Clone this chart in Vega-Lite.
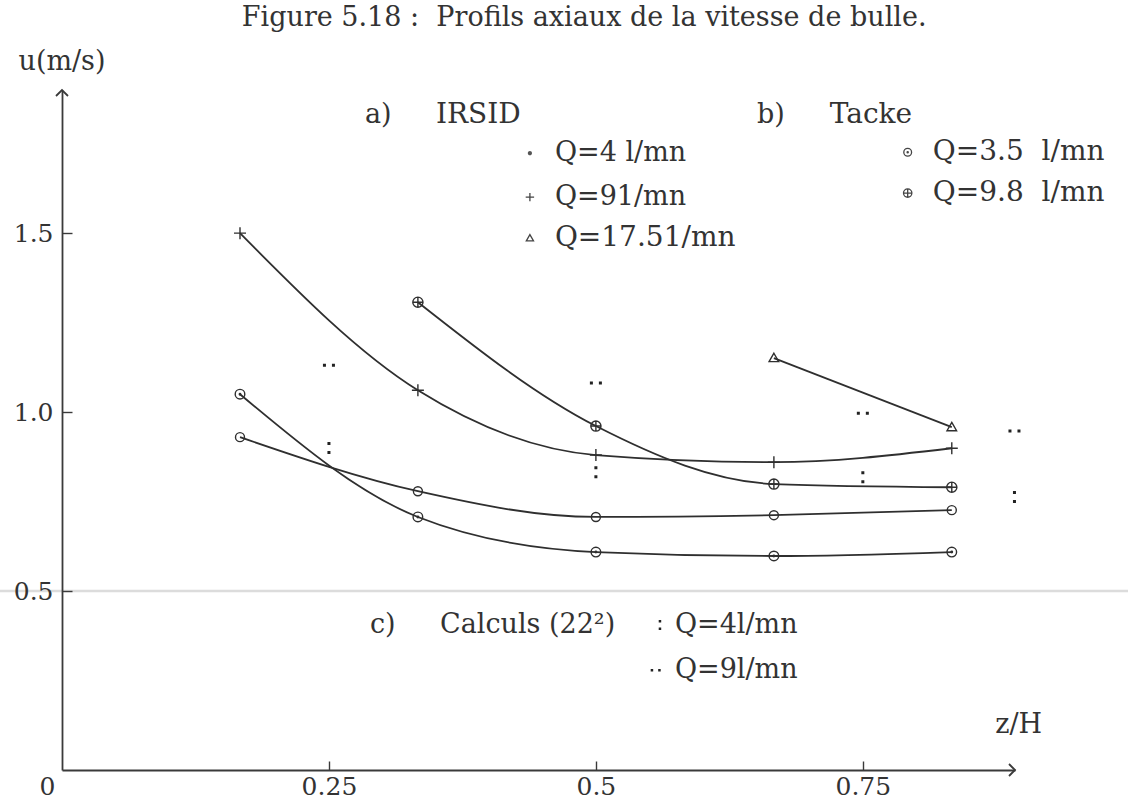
{
  "$schema": "https://vega.github.io/schema/vega-lite/v6.json",
  "width": 953,
  "height": 680,
  "autosize": {"type": "none"},
  "padding": {"left": 62, "top": 90, "right": 113, "bottom": 37},
  "background": "white",
  "config": {
    "view": {"stroke": null},
    "font": "DejaVu Serif",
    "text": {"font": "DejaVu Serif", "fontSize": 27, "color": "#333"}
  },
  "datasets": {
    "mesures": [
      {"serie": "IRSID Q=4", "z": 0.1667, "u": 1.05},
      {"serie": "IRSID Q=4", "z": 0.3333, "u": 0.707},
      {"serie": "IRSID Q=4", "z": 0.5, "u": 0.609},
      {"serie": "IRSID Q=4", "z": 0.6667, "u": 0.598},
      {"serie": "IRSID Q=4", "z": 0.8333, "u": 0.609},
      {"serie": "IRSID Q=9", "z": 0.1667, "u": 1.5},
      {"serie": "IRSID Q=9", "z": 0.3333, "u": 1.061},
      {"serie": "IRSID Q=9", "z": 0.5, "u": 0.88},
      {"serie": "IRSID Q=9", "z": 0.6667, "u": 0.86},
      {"serie": "IRSID Q=9", "z": 0.8333, "u": 0.899},
      {"serie": "IRSID Q=17.5", "z": 0.6667, "u": 1.151},
      {"serie": "IRSID Q=17.5", "z": 0.8333, "u": 0.958},
      {"serie": "Tacke Q=3.5", "z": 0.1667, "u": 0.93},
      {"serie": "Tacke Q=3.5", "z": 0.3333, "u": 0.779},
      {"serie": "Tacke Q=3.5", "z": 0.5, "u": 0.707},
      {"serie": "Tacke Q=3.5", "z": 0.6667, "u": 0.712},
      {"serie": "Tacke Q=3.5", "z": 0.8333, "u": 0.726},
      {"serie": "Tacke Q=9.8", "z": 0.3333, "u": 1.307},
      {"serie": "Tacke Q=9.8", "z": 0.5, "u": 0.961},
      {"serie": "Tacke Q=9.8", "z": 0.6667, "u": 0.799},
      {"serie": "Tacke Q=9.8", "z": 0.8333, "u": 0.79}
    ],
    "calculs": [
      {"serie": "Calculs Q=4", "z": 0.25, "u": 0.9},
      {"serie": "Calculs Q=4", "z": 0.5, "u": 0.832},
      {"serie": "Calculs Q=4", "z": 0.75, "u": 0.818},
      {"serie": "Calculs Q=4", "z": 0.892, "u": 0.763},
      {"serie": "Calculs Q=9", "z": 0.25, "u": 1.131},
      {"serie": "Calculs Q=9", "z": 0.5, "u": 1.081},
      {"serie": "Calculs Q=9", "z": 0.75, "u": 0.997},
      {"serie": "Calculs Q=9", "z": 0.892, "u": 0.947}
    ],
    "one": [{}]
  },
  "layer": [
    {
      "data": {"name": "one"},
      "mark": {"type": "rule", "color": "#dcdcdc", "strokeWidth": 2.5},
      "encoding": {
        "x": {"datum": -0.06},
        "x2": {"datum": 1.0},
        "y": {"datum": 0.5}
      }
    },
    {
      "data": {"name": "mesures"},
      "mark": {"type": "line", "interpolate": "monotone", "color": "#2f2f2f", "strokeWidth": 1.8},
      "encoding": {
        "x": {
          "field": "z", "type": "quantitative",
          "scale": {"domain": [0, 0.8925], "nice": false, "zero": false},
          "axis": {
            "title": null, "grid": false, "zindex": 1,
            "values": [0, 0.25, 0.5, 0.75],
            "labelExpr": "'' + datum.value",
            "labelFlush": false,
            "domainColor": "#3a3a3a", "domainWidth": 1.8,
            "tickColor": "#3a3a3a", "tickWidth": 1.4, "tickSize": -9,
            "tickOpacity": {"condition": {"test": "datum.value == 0", "value": 0}, "value": 1},
            "labelOffset": {"condition": {"test": "datum.value == 0", "value": -15}, "value": 0},
            "labelFont": "DejaVu Serif", "labelFontSize": 25, "labelColor": "#333",
            "labelPadding": 13
          }
        },
        "y": {
          "field": "u", "type": "quantitative",
          "scale": {"domain": [0, 1.9], "nice": false, "zero": false},
          "axis": {
            "title": null, "grid": false, "zindex": 1,
            "values": [0.5, 1, 1.5],
            "labelExpr": "format(datum.value, '.1f')",
            "labelFlush": false,
            "domainColor": "#3a3a3a", "domainWidth": 1.8,
            "tickColor": "#3a3a3a", "tickWidth": 1.4, "tickSize": -10,
            "labelFont": "DejaVu Serif", "labelFontSize": 25, "labelColor": "#333",
            "labelPadding": 19
          }
        },
        "detail": {"field": "serie"}
      }
    },
    {
      "data": {"name": "mesures"},
      "mark": {"type": "point", "filled": false, "stroke": "#2f2f2f", "strokeWidth": 1.4, "opacity": 1, "size": 144},
      "encoding": {
        "x": {"field": "z", "type": "quantitative"},
        "y": {"field": "u", "type": "quantitative"},
        "shape": {
          "field": "serie", "type": "nominal", "legend": null,
          "scale": {
            "domain": ["IRSID Q=4", "IRSID Q=9", "IRSID Q=17.5", "Tacke Q=3.5", "Tacke Q=9.8", "Calculs Q=4", "Calculs Q=9"],
            "range": [
              "M-0.8,0A0.8,0.8,0,1,1,0.8,0A0.8,0.8,0,1,1,-0.8,0ZM-0.12,0A0.12,0.12,0,1,1,0.12,0A0.12,0.12,0,1,1,-0.12,0Z",
              "M-1,0L1,0M0,-1L0,1",
              "M0,-0.8L0.8,0.6L-0.8,0.6Z",
              "M-0.75,0A0.75,0.75,0,1,1,0.75,0A0.75,0.75,0,1,1,-0.75,0Z",
              "M-0.85,0A0.85,0.85,0,1,1,0.85,0A0.85,0.85,0,1,1,-0.85,0ZM-0.85,0L0.85,0M0,-0.85L0,0.85",
              "M-0.25,-1h0.5v0.5h-0.5ZM-0.25,0.5h0.5v0.5h-0.5Z",
              "M-1,-0.25h0.5v0.5h-0.5ZM0.5,-0.25h0.5v0.5h-0.5Z"
            ]
          }
        }
      }
    },
    {
      "data": {"name": "calculs"},
      "mark": {"type": "point", "filled": true, "fill": "#222", "strokeWidth": 0, "opacity": 1, "size": 144},
      "encoding": {
        "x": {"field": "z", "type": "quantitative"},
        "y": {"field": "u", "type": "quantitative"},
        "shape": {"field": "serie", "type": "nominal", "legend": null}
      }
    },
    {
      "data": {"name": "one"},
      "mark": {"type": "point", "shape": "M-1,-1L0,0L-1,1", "size": 144, "filled": false, "stroke": "#3a3a3a", "strokeWidth": 1.8, "opacity": 1},
      "encoding": {"x": {"datum": 0.8925}, "y": {"datum": 0}}
    },
    {
      "data": {"name": "one"},
      "mark": {"type": "point", "shape": "M-1,1L0,0L1,1", "size": 144, "filled": false, "stroke": "#3a3a3a", "strokeWidth": 1.8, "opacity": 1},
      "encoding": {"x": {"datum": 0}, "y": {"datum": 1.9}}
    },
    {
      "data": {"name": "one"},
      "mark": {"type": "text", "text": "Figure 5.18 :\u00a0 Profils axiaux de la vitesse de bulle.", "align": "center", "baseline": "middle"},
      "encoding": {"x": {"datum": 0.489}, "y": {"datum": 2.101}}
    },
    {
      "data": {"name": "one"},
      "mark": {"type": "text", "text": "u(m/s)", "align": "center", "baseline": "middle"},
      "encoding": {"x": {"datum": 0}, "y": {"datum": 1.978}}
    },
    {
      "data": {"name": "one"},
      "mark": {"type": "text", "text": "z/H", "align": "center", "baseline": "middle"},
      "encoding": {"x": {"datum": 0.896}, "y": {"datum": 0.126}}
    },
    {
      "data": {"name": "one"},
      "mark": {"type": "text", "text": "a)", "align": "left", "baseline": "middle"},
      "encoding": {"x": {"datum": 0.2837}, "y": {"datum": 1.83}}
    },
    {
      "data": {"name": "one"},
      "mark": {"type": "text", "text": "IRSID", "align": "left", "baseline": "middle", "fontSize": 28},
      "encoding": {"x": {"datum": 0.3502}, "y": {"datum": 1.83}}
    },
    {
      "data": {"name": "one"},
      "mark": {"type": "point", "shape": "M-0.35,0A0.35,0.35,0,1,1,0.35,0A0.35,0.35,0,1,1,-0.35,0Z", "size": 144, "filled": true, "fill": "#555", "opacity": 1},
      "encoding": {"x": {"datum": 0.4382}, "y": {"datum": 1.7235}}
    },
    {
      "data": {"name": "one"},
      "mark": {"type": "point", "shape": "M-0.7,0L0.7,0M0,-0.7L0,0.7", "size": 144, "filled": false, "stroke": "#444", "strokeWidth": 1.3, "opacity": 1},
      "encoding": {"x": {"datum": 0.4382}, "y": {"datum": 1.6006}}
    },
    {
      "data": {"name": "one"},
      "mark": {"type": "point", "shape": "M0,-0.6L0.6,0.45L-0.6,0.45Z", "size": 144, "filled": false, "stroke": "#444", "strokeWidth": 1.3, "opacity": 1},
      "encoding": {"x": {"datum": 0.4382}, "y": {"datum": 1.486}}
    },
    {
      "data": {"name": "one"},
      "mark": {"type": "text", "text": "Q=4 l/mn", "align": "left", "baseline": "middle"},
      "encoding": {"x": {"datum": 0.4616}, "y": {"datum": 1.7235}}
    },
    {
      "data": {"name": "one"},
      "mark": {"type": "text", "text": "Q=91/mn", "align": "left", "baseline": "middle"},
      "encoding": {"x": {"datum": 0.4616}, "y": {"datum": 1.6006}}
    },
    {
      "data": {"name": "one"},
      "mark": {"type": "text", "text": "Q=17.51/mn", "align": "left", "baseline": "middle", "fontSize": 28},
      "encoding": {"x": {"datum": 0.4616}, "y": {"datum": 1.486}}
    },
    {
      "data": {"name": "one"},
      "mark": {"type": "text", "text": "b)", "align": "left", "baseline": "middle"},
      "encoding": {"x": {"datum": 0.6508}, "y": {"datum": 1.83}}
    },
    {
      "data": {"name": "one"},
      "mark": {"type": "text", "text": "Tacke", "align": "left", "baseline": "middle", "fontSize": 28},
      "encoding": {"x": {"datum": 0.719}, "y": {"datum": 1.83}}
    },
    {
      "data": {"name": "one"},
      "mark": {"type": "point", "shape": "M-0.65,0A0.65,0.65,0,1,1,0.65,0A0.65,0.65,0,1,1,-0.65,0ZM-0.1,0A0.1,0.1,0,1,1,0.1,0A0.1,0.1,0,1,1,-0.1,0Z", "size": 144, "filled": false, "stroke": "#444", "strokeWidth": 1.3, "opacity": 1},
      "encoding": {"x": {"datum": 0.792}, "y": {"datum": 1.726}}
    },
    {
      "data": {"name": "one"},
      "mark": {"type": "point", "shape": "M-0.7,0A0.7,0.7,0,1,1,0.7,0A0.7,0.7,0,1,1,-0.7,0ZM-0.7,0L0.7,0M0,-0.7L0,0.7", "size": 144, "filled": false, "stroke": "#444", "strokeWidth": 1.3, "opacity": 1},
      "encoding": {"x": {"datum": 0.792}, "y": {"datum": 1.612}}
    },
    {
      "data": {"name": "one"},
      "mark": {"type": "text", "text": "Q=3.5\u00a0 l/mn", "align": "left", "baseline": "middle", "fontSize": 28},
      "encoding": {"x": {"datum": 0.8155}, "y": {"datum": 1.726}}
    },
    {
      "data": {"name": "one"},
      "mark": {"type": "text", "text": "Q=9.8\u00a0 l/mn", "align": "left", "baseline": "middle", "fontSize": 28},
      "encoding": {"x": {"datum": 0.8155}, "y": {"datum": 1.612}}
    },
    {
      "data": {"name": "one"},
      "mark": {"type": "text", "text": "c)", "align": "left", "baseline": "middle"},
      "encoding": {"x": {"datum": 0.2884}, "y": {"datum": 0.405}}
    },
    {
      "data": {"name": "one"},
      "mark": {"type": "text", "text": "Calculs (22²)", "align": "left", "baseline": "middle"},
      "encoding": {"x": {"datum": 0.354}, "y": {"datum": 0.405}}
    },
    {
      "data": {"name": "one"},
      "mark": {"type": "point", "shape": "M-0.25,-1h0.5v0.5h-0.5ZM-0.25,0.5h0.5v0.5h-0.5Z", "size": 100, "filled": true, "fill": "#222", "strokeWidth": 0, "opacity": 1},
      "encoding": {"x": {"datum": 0.56}, "y": {"datum": 0.405}}
    },
    {
      "data": {"name": "one"},
      "mark": {"type": "point", "shape": "M-1,-0.25h0.5v0.5h-0.5ZM0.5,-0.25h0.5v0.5h-0.5Z", "size": 100, "filled": true, "fill": "#222", "strokeWidth": 0, "opacity": 1},
      "encoding": {"x": {"datum": 0.556}, "y": {"datum": 0.279}}
    },
    {
      "data": {"name": "one"},
      "mark": {"type": "text", "text": "Q=4l/mn", "align": "left", "baseline": "middle"},
      "encoding": {"x": {"datum": 0.574}, "y": {"datum": 0.405}}
    },
    {
      "data": {"name": "one"},
      "mark": {"type": "text", "text": "Q=9l/mn", "align": "left", "baseline": "middle"},
      "encoding": {"x": {"datum": 0.574}, "y": {"datum": 0.279}}
    }
  ]
}
